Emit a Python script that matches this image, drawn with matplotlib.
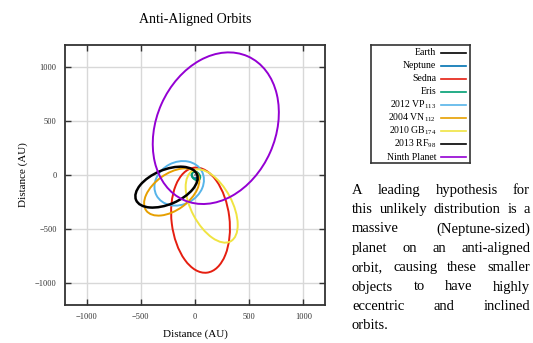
import matplotlib
matplotlib.use("Agg")
import matplotlib.pyplot as plt
from matplotlib.patches import Ellipse

plt.rcParams['font.family'] = ['Liberation Serif', 'DejaVu Serif']
plt.rcParams['mathtext.fontset'] = 'custom'
plt.rcParams['mathtext.rm'] = 'Liberation Serif'
plt.rcParams['mathtext.it'] = 'Liberation Serif:italic'

## Orbits as projected ellipses (AU)
names = ["Earth", "Neptune", "Sedna", "Eris", "2012 VP$_{113}$",
         "2004 VN$_{112}$", "2010 GB$_{174}$", "2013 RF$_{98}$", "Ninth Planet"]
colors = ["#000000", "#0072b2", "#e51e10", "#009e73", "#56b4e9",
          "#e69f00", "#f0e442", "#000000", "#9400d3"]
center_x = [0, 0, 51, 9, -146, -215, 154, -263, 192]
center_y = [0, 0, -417, -9, -77, -157, -286, -112, 432]
widths   = [2, 60, 976, 90, 474, 582, 740, 610, 1452]
heights  = [2, 60, 534, 66, 392, 334, 376, 318, 1098]
angles   = [0, 0, 97, -45, 28, 36, 118, 23, 66]

ticks = [-1000, -500, 0, 500, 1000]

paragraph = ["A leading hypothesis for",
             "this unlikely distribution is a",
             "massive (Neptune-sized)",
             "planet on an anti-aligned",
             "orbit, causing these smaller",
             "objects to have highly",
             "eccentric and inclined",
             "orbits."]

W, H = 533, 343
fig = plt.figure(figsize=(W/100, H/100), dpi=100)
ax = fig.add_axes([65/W, 1-305/H, 260/W, 260/H])

for i in range(len(names)):
	lw = 1.8 if names[i].startswith("2013") else 1.4
	e = Ellipse((center_x[i], center_y[i]), widths[i], heights[i], angle=angles[i],
	            fill=False, edgecolor=colors[i], lw=lw, zorder=3+i)
	ax.add_patch(e)

ax.set_xlim(-1200, 1200)
ax.set_ylim(-1200, 1200)
ax.set_xticks(ticks)
ax.set_yticks(ticks)
ax.grid(True, color="#d8d8d8", lw=1.0, zorder=0)
ax.tick_params(direction="in", length=4, width=1, top=True, right=True,
               labelsize=6, colors="#333333", pad=6)
for s in ax.spines.values():
	s.set_linewidth(1.3)
	s.set_color("#333333")

ax.set_title("Anti-Aligned Orbits", fontsize=10, pad=16)
ax.set_xlabel("Distance (AU)", fontsize=8, labelpad=6)
ax.set_ylabel("Distance (AU)", fontsize=8, labelpad=5)

## key box, gnuplot style: label on the left, sample line on the right
lax = fig.add_axes([371/W, 1-163/H, 99/W, 118/H])
lax.set_xlim(0, 1)
lax.set_ylim(0, 1)
lax.set_xticks([])
lax.set_yticks([])
for s in lax.spines.values():
	s.set_linewidth(1.2)
	s.set_color("#333333")
n = len(names)
for i in range(n):
	yy = 1 - (7.5 + 13.1*i)/118
	lax.text(0.66, yy, names[i], fontsize=7, ha="right", va="center")
	lax.plot([0.705, 0.96], [yy, yy], color=colors[i], lw=1.2)

## justified paragraph on the right
renderer = fig.canvas.get_renderer()
x0, x1 = 352, 530
y_first, dy = 190, 19.4
fsize = 10.5
for k, line in enumerate(paragraph):
	words = line.split()
	y = 1 - (y_first + k*dy)/H
	texts = [fig.text(0, y, w, fontsize=fsize, va="center", ha="left") for w in words]
	wid = [t.get_window_extent(renderer).width for t in texts]
	if k == len(paragraph) - 1 or len(words) == 1:
		gap = 3.5
	else:
		gap = (x1 - x0 - sum(wid)) / (len(words) - 1)
	x = x0
	for t, w in zip(texts, wid):
		t.set_x(x / W)
		x += w + gap

fig.savefig("out.png", dpi=100)
